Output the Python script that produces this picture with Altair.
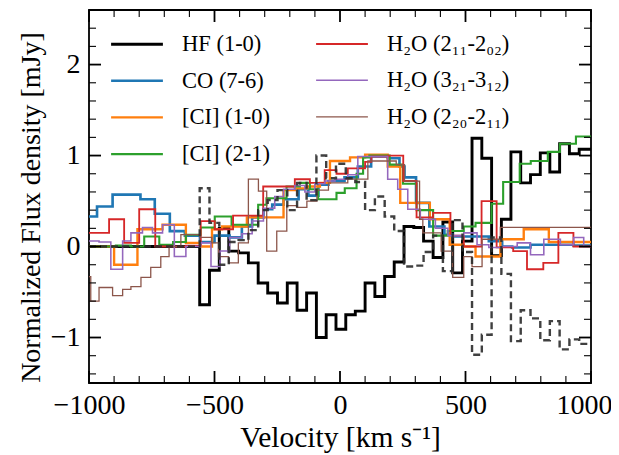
import altair as alt
import pandas as pd

# ---------------- data ----------------
hf_v = [-1000, -559, -520, -481, -443, -404, -365, -326, -288, -249, -210, -171, -133, -94, -55, -16, 23, 61,
        100, 139, 178, 216, 255, 294, 333, 371, 410, 449, 488, 526, 565, 604, 643, 681, 720, 759, 798, 836,
        875, 914, 953, 1000]
hf_f = [0, -0.64, -0.26, 0.20, -0.05, -0.07, -0.18, -0.40, -0.51, -0.62, -0.40, -0.70, -0.51, -1.00, -0.75,
        -0.91, -0.75, -0.71, -0.40, -0.55, -0.33, -0.17, 0.22, 0.21, 0.06, -0.12, 0.27, -0.29, 0.06, 1.19,
        0.97, -0.10, 0.30, 1.04, 0.70, 0.79, 1.03, 0.82, 1.13, 1.02, 1.07]

co_v = [-1000, -968, -906, -795, -738, -678, -618, -558, -500, -440, -391, -350, -305, -270, -225, -165, -126,
        -86, -46, 18, 71, 124, 190, 237, 257, 303, 356, 416, 449, 493, 593, 646, 686, 759, 812, 878, 931, 1000]
co_f = [0.33, 0.44, 0.57, 0.52, 0.36, 0.17, 0.12, 0.05, 0.12, 0.10, 0.22, 0.32, 0.41, 0.46, 0.52, 0.63, 0.56,
        0.68, 0.72, 0.76, 0.88, 0.99, 0.97, 0.88, 0.76, 0.48, 0.22, 0.13, 0.11, 0.11, 0.06, 0.0, -0.01, 0.02,
        0.02, 0.02, 0.01]

ci10_v = [-1000, -900, -807, -707, -614, -555, -510, -470, -371, -225, -180, -130, -80, -40, 40, 100, 190, 240,
          358, 437, 493, 540, 639, 732, 832, 1000]
ci10_f = [0.00, -0.20, 0.19, 0.24, 0.04, 0.0, 0.19, 0.22, 0.32, 0.62, 0.64, 0.66, 0.70, 0.94, 0.98, 1.01, 0.88,
          0.48, 0.30, 0.02, 0.0, -0.11, 0.08, 0.19, 0.05]

ci21_v = [-1000, -893, -833, -780, -720, -665, -614, -555, -499, -432, -326, -293, -213, -160, -120, -87, -14,
          19, 66, 92, 117, 198, 251, 305, 371, 429, 493, 540, 604, 650, 716, 760, 828, 876, 940, 1000]
ci21_f = [0.00, 0.01, 0.00, 0.11, 0.02, 0.05, 0.13, 0.21, 0.33, 0.24, 0.46, 0.53, 0.66, 0.70, 0.63, 0.52, 0.59,
          0.64, 0.80, 0.98, 1.0, 0.90, 0.69, 0.40, 0.12, 0.17, 0.22, 0.26, 0.47, 0.71, 0.91, 0.94, 1.04, 1.13,
          1.21]

h211_v = [-1000, -920, -860, -800, -736, -614, -555, -499, -426, -306, -180, -120, -61, -14, 31, 100, 125, 192,
          252, 305, 371, 440, 493, 564, 624, 690, 745, 810, 870, 930, 1000]
h211_f = [0.15, 0.30, 0.04, 0.41, 0.00, 0.01, 0.28, 0.19, 0.34, 0.66, 0.74, 0.70, 0.84, 0.80, 0.86, 0.93, 0.99,
          1.00, 0.72, 0.32, 0.37, 0.12, 0.00, 0.50, -0.01, -0.05, -0.25, -0.18, 0.15, 0.0]

h321_v = [-1000, -960, -913, -866, -833, -787, -747, -707, -660, -614, -555, -514, -478, -440, -391, -350, -305,
          -260, -225, -180, -140, -100, -60, -20, 31, 71, 124, 190, 230, 270, 320, 380, 430, 493, 546, 593, 646,
          706, 759, 812, 878, 931, 971, 1000]
h321_f = [0.06, 0.05, -0.25, 0.06, 0.15, 0.21, 0.15, 0.24, -0.11, 0.0, 0.04, -0.22, -0.05, 0.10, 0.14, 0.28,
          0.42, 0.55, 0.63, 0.67, 0.60, 0.69, 0.72, 0.74, 0.79, 0.99, 0.99, 0.74, 0.63, 0.41, 0.30, 0.20, 0.12,
          0.15, 0.02, -0.01, 0.0, 0.04, -0.09, 0.08, 0.02, 0.10, 0.0]

h220_v = [-1000, -993, -960, -906, -866, -833, -793, -754, -714, -681, -634, -558, -511, -484, -444, -405, -365,
          -325, -292, -252, -212, -172, -132, -92, -46, 31, 111, 224, 257, 317, 330, 403, 449, 493, 526, 566,
          639, 1000]
h220_f = [-0.33, -0.60, -0.45, -0.54, -0.47, -0.44, -0.34, -0.23, -0.11, 0.0, 0.13, 0.10, 0.04, -0.11, -0.18,
          0.04, 0.74, 0.61, -0.05, 0.17, 0.45, 0.43, 0.50, 0.62, 0.70, 0.74, 0.94, 0.90, 0.72, 0.30, 0.15, -0.05,
          -0.34, -0.11, -0.22, 0.08, 0.21]

HF = "HF (1-0)"
CO = "CO (7-6)"
CI10 = "[CI] (1-0)"
CI21 = "[CI] (2-1)"
W211 = "H₂O (2₁₁-2₀₂)"
W321 = "H₂O (3₂₁-3₁₂)"
W220 = "H₂O (2₂₀-2₁₁)"

# legend fills column by column (two columns)
legend_order = [HF, CO, CI10, CI21, W211, W321, W220]
legend_colors = ["#000000", "#1f77b4", "#ff7f0e", "#2ca02c", "#d62728", "#9467bd", "#8c564b"]
legend_widths = [2.9, 1.3, 1.3, 1.3, 1.3, 1.3, 1.3]

x_major = [-1000, -500, 0, 500, 1000]
x_minor = [-900, -800, -700, -600, -400, -300, -200, -100, 100, 200, 300, 400, 600, 700, 800, 900]
y_major = [-1, 0, 1, 2]
y_minor = [-1.4, -1.2, -0.8, -0.6, -0.4, -0.2, 0.2, 0.4, 0.6, 0.8, 1.2, 1.4, 1.6, 1.8, 2.2, 2.4]

# ---------------- build table ----------------
series = [(HF, hf_v, hf_f), (CO, co_v, co_f), (CI10, ci10_v, ci10_f), (CI21, ci21_v, ci21_f),
          (W211, h211_v, h211_f), (W321, h321_v, h321_f), (W220, h220_v, h220_f)]
rows = []
for name, vs, fs in series:
    for i, f in enumerate(fs):
        rows.append({"series": name, "v": vs[i], "f": f})
    rows.append({"series": name, "v": vs[-1], "f": fs[-1]})
df = pd.DataFrame(rows)
df_hf = df[df["series"] == HF]

W, H = 502, 373
FONT = "Liberation Serif"
MAJ, MIN = 12, 7

xscale = alt.Scale(domain=[-1000, 1000], nice=False, zero=False)
yscale = alt.Scale(domain=[-1.5, 2.6], nice=False, zero=False)

axis_style = dict(labelFont=FONT, labelFontSize=28, labelColor="black", labelFlush=False,
                  titleFont=FONT, titleColor="black", titleFontWeight="normal",
                  titleBaseline="alphabetic", ticks=False, domain=False, grid=False, format="d")
xaxis = alt.Axis(values=x_major, title="Velocity [km s⁻¹]", titleY=63, titleFontSize=29.5,
                 labelPadding=8,
                 labelOffset={"condition": {"test": "datum.value == 1000", "value": -7}, "value": 0},
                 **axis_style)
yaxis = alt.Axis(values=y_major, title="Normalized Flux density [mJy]", titleX=-50, titleY=197,
                 titleFontSize=28, labelPadding=9, **axis_style)

leg = alt.Legend(orient="none", legendX=28, legendY=14, columns=2, title=None,
                 symbolType="M-1.4,0H1.4", symbolSize=1369, labelFont=FONT, labelFontSize=22.5,
                 labelColor="black", labelOffset=25, columnPadding=41, rowPadding=4.7, padding=0,
                 symbolOpacity=1, labelLimit=300)

lines = alt.Chart(df).mark_line(interpolate="step-after", clip=True).encode(
    x=alt.X("v:Q", scale=xscale, axis=xaxis),
    y=alt.Y("f:Q", scale=yscale, axis=yaxis),
    color=alt.Color("series:N", scale=alt.Scale(domain=legend_order, range=legend_colors), legend=leg),
    strokeWidth=alt.StrokeWidth("series:N", scale=alt.Scale(domain=legend_order, range=legend_widths),
                                legend=leg),
)

dashed = alt.Chart(df_hf).transform_calculate(neg="-datum.f").mark_line(
    interpolate="step-after", clip=True, strokeDash=[7, 4], color="#2b2b2b", strokeWidth=2.4, opacity=0.9
).encode(
    x=alt.X("v:Q", scale=xscale, axis=xaxis),
    y=alt.Y("neg:Q", scale=yscale, axis=yaxis),
)


def xticks(vals, length, width):
    d = pd.DataFrame({"t": vals})
    bot = alt.Chart(d).mark_rule(color="black", strokeWidth=width).encode(
        x=alt.X("t:Q", scale=xscale, axis=xaxis), y=alt.value(H), y2=alt.value(H - length))
    top = alt.Chart(d).mark_rule(color="black", strokeWidth=width).encode(
        x=alt.X("t:Q", scale=xscale, axis=xaxis), y=alt.value(0), y2=alt.value(length))
    return [bot, top]


def yticks(vals, length, width):
    d = pd.DataFrame({"t": vals})
    left = alt.Chart(d).mark_rule(color="black", strokeWidth=width).encode(
        y=alt.Y("t:Q", scale=yscale, axis=yaxis), x=alt.value(0), x2=alt.value(length))
    right = alt.Chart(d).mark_rule(color="black", strokeWidth=width).encode(
        y=alt.Y("t:Q", scale=yscale, axis=yaxis), x=alt.value(W), x2=alt.value(W - length))
    return [left, right]


tick_layers = (xticks(x_major, MAJ, 1.8) + xticks(x_minor, MIN, 1.1) +
               yticks(y_major, MAJ, 1.8) + yticks(y_minor, MIN, 1.1))

chart = alt.layer(lines, dashed, *tick_layers).properties(
    width=W, height=H,
    padding={"left": 81, "top": 2, "right": 20, "bottom": 70},
    autosize=alt.AutoSizeParams(type="none"),
    background="white",
).configure_view(stroke="black", strokeWidth=1.8).configure_axis(
    labelFont=FONT, titleFont=FONT,
)

chart.save("out.html", embed_options={"renderer": "svg", "actions": False})
